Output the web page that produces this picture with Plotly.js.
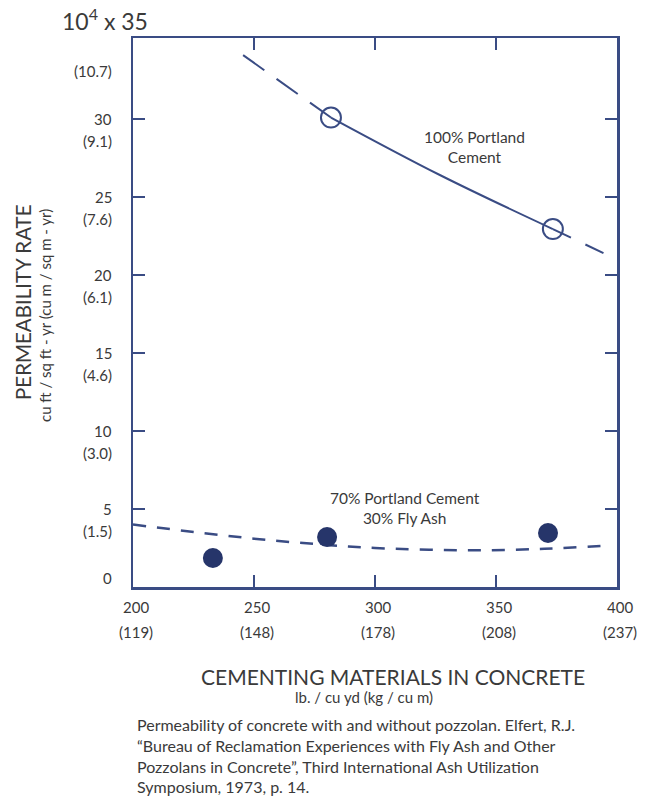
<!DOCTYPE html>
<html>
<head>
<meta charset="utf-8">
<script src="https://cdn.plot.ly/plotly-3.0.1.min.js"></script>
<style>html,body{margin:0;padding:0;background:#fff;}#chart{width:649px;height:801px;}</style>
</head>
<body>
<div id="chart"></div>
<script>
// ---- data ----
const pcPointsX = [281.8, 373.5];           // 100% Portland Cement measured points
const pcPointsY = [30.1, 22.95];
const pcCurveX = [281.8, 327, 373.5];        // solid fitted curve
const pcCurveY = [30.1, 26.4, 22.95];
const pcDashLeftX = [245.5, 281.8];          // dashed extrapolation
const pcDashLeftY = [34.1, 30.1];
const pcDashRightX = [373.5, 400];
const pcDashRightY = [22.95, 21.0];

const faPointsX = [233, 280.2, 371.5];       // 70% PC / 30% fly ash points
const faPointsY = [1.86, 3.2, 3.46];
const faCurveX = [200, 250, 280, 300, 340, 370, 395];
const faCurveY = [4.0, 3.1, 2.7, 2.5, 2.35, 2.45, 2.65];

const xTickVals = [200, 250, 300, 350, 400];
const xTickLabels = ["200", "250", "300", "350", "400"];
const xTickMetric = ["(119)", "(148)", "(178)", "(208)", "(237)"];
const yTickVals = [0, 5, 10, 15, 20, 25, 30];
const yTickLabels = ["0", "5", "10", "15", "20", "25", "30"];
const yTickMetric = ["", "(1.5)", "(3.0)", "(4.6)", "(6.1)", "(7.6)", "(9.1)"];
const yTopVal = 35;
const yTopLabel = "10<sup>4</sup>\u00a0x\u00a035";
const yTopMetric = "(10.7)";

const seriesLabels = ["100% Portland<br>Cement", "70% Portland Cement<br>30% Fly Ash"];
const xTitle = "CEMENTING MATERIALS IN CONCRETE";
const xSubtitle = "lb. / cu yd (kg / cu m)";
const yTitle = "PERMEABILITY RATE";
const ySubtitle = "cu ft / sq ft - yr (cu m / sq m - yr)";
const caption = [
  "Permeability of concrete with and without pozzolan. Elfert, R.J.",
  "\u201cBureau of Reclamation Experiences with Fly Ash and Other",
  "Pozzolans in Concrete\u201d, Third International Ash Utilization",
  "Symposium, 1973, p. 14."
];

// ---- styling ----
const navy = '#3a4c84';
const dot = '#26356a';
const txt = '#3a3a3a';
const FONT = 'Lato, "Open Sans", sans-serif';

const W = 649, H = 801, L = 133, R = 32, T = 38, B = 214;
const pw = W - L - R, ph = H - T - B;
const px2paperX = p => (p - L) / pw;
const px2paperY = p => (H - B - p) / ph;

const traces = [
  {x: pcDashLeftX, y: pcDashLeftY, mode: 'lines', line: {color: navy, width: 2, dash: '26px,15px'}, hoverinfo: 'skip'},
  {x: pcDashRightX, y: pcDashRightY, mode: 'lines', line: {color: navy, width: 2, dash: '20px,16px'}, hoverinfo: 'skip'},
  {x: pcCurveX, y: pcCurveY, mode: 'lines', line: {color: navy, width: 2, shape: 'spline'}, hoverinfo: 'skip'},
  {x: faCurveX, y: faCurveY, mode: 'lines', line: {color: navy, width: 2.5, dash: '13px,11px', shape: 'spline'}, hoverinfo: 'skip'},
  {x: pcPointsX, y: pcPointsY, mode: 'markers', marker: {size: 20, color: 'rgba(0,0,0,0)', line: {color: navy, width: 2}}},
  {x: faPointsX, y: faPointsY, mode: 'markers', marker: {size: 20, color: dot, line: {width: 0}}}
];

const TS = 15;
const ann = [];
// y tick labels
yTickVals.forEach((v, i) => {
  ann.push({xref: 'paper', yref: 'y', x: px2paperX(114), y: v, xanchor: 'right', yanchor: 'middle',
    text: yTickLabels[i], showarrow: false, yshift: (v === 0 ? 9 : 0), font: {family: FONT, size: TS, color: txt}});
  if (yTickMetric[i]) ann.push({xref: 'paper', yref: 'y', x: px2paperX(114), y: v, xanchor: 'right', yanchor: 'middle',
    text: yTickMetric[i], showarrow: false, yshift: -22, font: {family: FONT, size: TS, color: txt}});
});
ann.push({xref: 'paper', yref: 'y', x: px2paperX(60), y: yTopVal, xanchor: 'left', yanchor: 'middle',
  text: yTopLabel, showarrow: false, yshift: 22, font: {family: FONT, size: 23, color: txt}});
ann.push({xref: 'paper', yref: 'y', x: px2paperX(114), y: yTopVal, xanchor: 'right', yanchor: 'middle',
  text: yTopMetric, showarrow: false, yshift: -30, font: {family: FONT, size: TS, color: txt}});
// x tick labels
xTickVals.forEach((v, i) => {
  ann.push({xref: 'x', yref: 'paper', x: v, y: 0, xanchor: 'center', yanchor: 'middle',
    text: xTickLabels[i], showarrow: false, yshift: -20, xshift: 3, font: {family: FONT, size: TS, color: txt}});
  ann.push({xref: 'x', yref: 'paper', x: v, y: 0, xanchor: 'center', yanchor: 'middle',
    text: xTickMetric[i], showarrow: false, yshift: -45, xshift: 3, font: {family: FONT, size: TS, color: txt}});
});
// series labels
ann.push({xref: 'paper', yref: 'paper', x: px2paperX(474), y: px2paperY(147), xanchor: 'center', yanchor: 'middle',
  text: seriesLabels[0], showarrow: false, align: 'center', font: {family: FONT, size: 15.5, color: txt}});
ann.push({xref: 'paper', yref: 'paper', x: px2paperX(405), y: px2paperY(508), xanchor: 'center', yanchor: 'middle',
  text: seriesLabels[1], showarrow: false, align: 'center', font: {family: FONT, size: 15.5, color: txt}});
// axis titles
ann.push({xref: 'paper', yref: 'paper', x: px2paperX(393), y: px2paperY(676), xanchor: 'center', yanchor: 'middle',
  text: xTitle, showarrow: false, font: {family: FONT, size: 21, color: txt}});
ann.push({xref: 'paper', yref: 'paper', x: px2paperX(364), y: px2paperY(697), xanchor: 'center', yanchor: 'middle',
  text: xSubtitle, showarrow: false, font: {family: FONT, size: 15, color: txt}});
ann.push({xref: 'paper', yref: 'paper', x: px2paperX(23), y: px2paperY(302), xanchor: 'center', yanchor: 'middle',
  text: yTitle, textangle: -90, showarrow: false, font: {family: FONT, size: 20.5, color: txt}});
ann.push({xref: 'paper', yref: 'paper', x: px2paperX(45), y: px2paperY(316), xanchor: 'center', yanchor: 'middle',
  text: ySubtitle, textangle: -90, showarrow: false, font: {family: FONT, size: 15, color: txt}});
// caption
ann.push({xref: 'paper', yref: 'paper', x: px2paperX(135), y: px2paperY(713), xanchor: 'left', yanchor: 'top',
  text: caption.join('<br>'), align: 'left', showarrow: false, font: {family: FONT, size: 16, color: txt}});

const axisCommon = {showgrid: false, zeroline: false, showline: true, linecolor: navy, linewidth: 2.5,
  mirror: 'ticks', ticks: 'inside', ticklen: 12, tickwidth: 2.5, tickcolor: navy, showticklabels: false, fixedrange: true};

const layout = {
  width: W, height: H,
  margin: {l: L, r: R, t: T, b: B, pad: 0},
  paper_bgcolor: '#fff', plot_bgcolor: '#fff',
  showlegend: false,
  xaxis: Object.assign({}, axisCommon, {range: [200, 400], tickvals: [250, 300, 350]}),
  yaxis: Object.assign({}, axisCommon, {range: [0, 35.2], tickvals: [5, 10, 15, 20, 25, 30]}),
  annotations: ann
};

Plotly.newPlot('chart', traces, layout, {displayModeBar: false, staticPlot: true});
</script>
</body>
</html>
